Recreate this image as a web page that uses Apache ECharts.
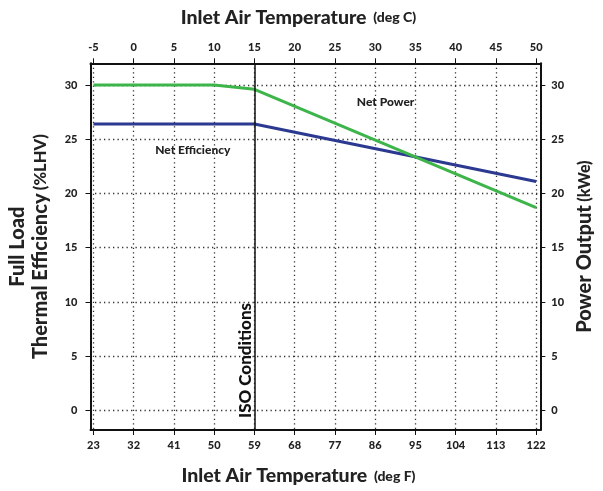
<!DOCTYPE html>
<html><head><meta charset="utf-8">
<script src="https://cdn.jsdelivr.net/npm/echarts@6/dist/echarts.min.js"></script>
<style>html,body{margin:0;padding:0;background:#fff}#c{width:603px;height:491px}</style>
</head><body><div id="c"></div>
<script>
// Data (x in deg C)
const tempC = [-5, 10, 15, 50];
const netPower = [30.0, 30.0, 29.6, 18.7];
const netEfficiency = [26.4, 26.4, 26.4, 21.1];
// Tick labels
const ticksC = [-5, 0, 5, 10, 15, 20, 25, 30, 35, 40, 45, 50];
const ticksF = [23, 32, 41, 50, 59, 68, 77, 86, 95, 104, 113, 122];
const ticksY = [0, 5, 10, 15, 20, 25, 30];
const isoTempC = 15;
const labelEff = { text: 'Net Efficiency', x: 7.35, y: 24.0 };
const labelPow = { text: 'Net Power', x: 31.3, y: 28.4 };

const FONT = 'Lato';
const W = 900;
const cMin = -5.36, cMax = 50.52;
const fMin = cMin * 9 / 5 + 32, fMax = cMax * 9 / 5 + 32;
const yMin = -1.8, yMax = 32;

const tickLab = { fontFamily: FONT, fontWeight: W, fontSize: 11, color: '#222' };
const axisLine = { show: true, onZero: false, lineStyle: { color: '#111', width: 2 } };
const dotted = { show: true, lineStyle: { color: '#333', width: 1.3, type: [1.3, 3.2] } };
const tickStyle = (vals) => ({ show: true, length: 5, customValues: vals, lineStyle: { color: '#111', width: 1 } });
const txt = (size) => ({ fontFamily: FONT, fontWeight: W, fontSize: size, color: '#222' });

const chart = echarts.init(document.getElementById('c'), null, { renderer: 'canvas' });
chart.setOption({
  animation: false,
  backgroundColor: '#fff',
  grid: { left: 87.7, right: 54.7, top: 63.3, bottom: 57, containLabel: false },
  xAxis: [
    {
      type: 'value', position: 'bottom', min: fMin, max: fMax,
      axisLine, axisTick: tickStyle(ticksF),
      axisLabel: { ...tickLab, margin: 10, customValues: ticksF },
      splitLine: dotted,
      name: '{a|Inlet Air Temperature}  {b|(deg F)}', nameLocation: 'middle', nameGap: 36,
      nameTextStyle: { padding: [0, 34, 0, 0], rich: { a: txt(19.5), b: txt(14) } }
    },
    {
      type: 'value', position: 'top', min: cMin, max: cMax,
      axisLine, axisTick: tickStyle(ticksC),
      axisLabel: { ...tickLab, margin: 10, customValues: ticksC },
      splitLine: { show: false },
      name: '{a|Inlet Air Temperature}  {b|(deg C)}', nameLocation: 'middle', nameGap: 36,
      nameTextStyle: { padding: [0, 34, 0, 0], rich: { a: txt(19.5), b: txt(14) } }
    }
  ],
  yAxis: [
    {
      type: 'value', position: 'left', min: yMin, max: yMax,
      axisLine, axisTick: tickStyle(ticksY),
      axisLabel: { ...tickLab, margin: 13, customValues: ticksY },
      splitLine: dotted,
      name: '{f|Full Load}\n{t|Thermal Efficiency} {s|(%LHV)}', nameLocation: 'middle', nameRotate: 90, nameGap: 38,
      nameTextStyle: { align: 'center', rich: {
        f: { ...txt(20), lineHeight: 23 },
        t: { ...txt(20), lineHeight: 23 },
        s: { ...txt(16.5), lineHeight: 23 } } }
    },
    {
      type: 'value', position: 'right', min: yMin, max: yMax,
      axisLine, axisTick: tickStyle(ticksY),
      axisLabel: { ...tickLab, margin: 11, customValues: ticksY },
      splitLine: { show: false },
      name: '{t|Power Output} {s|(kWe)}', nameLocation: 'middle', nameRotate: 90, nameGap: 22,
      nameTextStyle: { rich: { t: txt(20), s: txt(16) } }
    }
  ],
  series: [
    {
      name: 'Net Efficiency', type: 'line', xAxisIndex: 1, yAxisIndex: 0,
      data: tempC.map((t, i) => [t, netEfficiency[i]]),
      symbol: 'none', lineStyle: { color: '#2b3990', width: 3 }, z: 3,
      markPoint: {
        symbol: 'circle', symbolSize: 0, silent: true,
        label: { show: true, position: 'inside', formatter: labelEff.text, ...txt(12) },
        data: [{ coord: [labelEff.x, labelEff.y] }]
      },
      markLine: {
        symbol: 'none', silent: true,
        lineStyle: { color: '#111', width: 1.5, type: 'solid' },
        label: { show: true, position: 'insideStartTop', formatter: 'ISO Conditions', ...txt(17), color: '#111', distance: [12, 0] },
        data: [{ xAxis: isoTempC }]
      }
    },
    {
      name: 'Net Power', type: 'line', xAxisIndex: 1, yAxisIndex: 1,
      data: tempC.map((t, i) => [t, netPower[i]]),
      symbol: 'none', lineStyle: { color: '#3db54a', width: 3 }, z: 4,
      markPoint: {
        symbol: 'circle', symbolSize: 0, silent: true,
        label: { show: true, position: 'inside', formatter: labelPow.text, ...txt(12) },
        data: [{ coord: [labelPow.x, labelPow.y] }]
      }
    }
  ]
});
</script></body></html>
